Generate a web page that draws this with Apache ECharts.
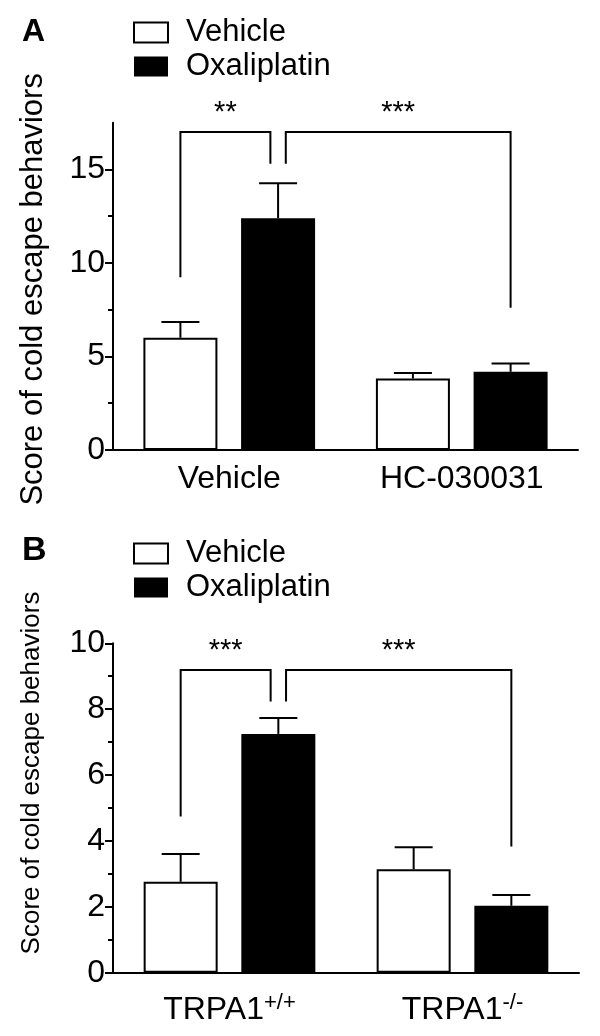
<!DOCTYPE html>
<html><head><meta charset="utf-8">
<script src="https://cdn.jsdelivr.net/npm/echarts@6/dist/echarts.min.js"></script>
<style>html,body{margin:0;padding:0;background:#fff}#c{width:600px;height:1036px}</style>
</head><body><div id="c"></div>
<script>
// ---------- data ----------
const seriesNames = ['Vehicle', 'Oxaliplatin'];

const catsA = ['Vehicle', 'HC-030031'];
const vehA = [6.0, 3.82];
const vehSemA = [0.84, 0.30];
const oxaA = [12.39, 4.18];
const oxaSemA = [1.87, 0.44];
const ticksA = [0, 5, 10, 15];
const minorTicksA = [2.5, 7.5, 12.5];
const maxA = 17.5;
// bracket: [cat1, bar1, cat2, bar2, top, legBottom1, legBottom2]
const bracketsA = [[0, 0, 0, 1, 17.0, 9.24, 15.3], [0, 1, 1, 1, 17.0, 15.3, 7.6]];
const starsA = ['**', '***'];

const catsB = ['TRPA1+/+', 'TRPA1-/-'];
const vehB = [2.76, 3.14];
const vehSemB = [0.84, 0.67];
const oxaB = [7.25, 2.03];
const oxaSemB = [0.48, 0.33];
const ticksB = [0, 2, 4, 6, 8, 10];
const minorTicksB = [1, 3, 5, 7, 9];
const maxB = 10;
const bracketsB = [[0, 0, 0, 1, 9.19, 4.74, 8.23], [0, 1, 1, 1, 9.19, 8.23, 3.83]];
const starsB = ['***', '***'];

// ---------- style ----------
const FONT = 'Liberation Sans, Arial, Helvetica, sans-serif';
const BW = 74, GAP = 0.32;
const OFF = (BW + BW * GAP) / 2;
const CAP = 19, LEG_INSET = 7.7;

const chart = echarts.init(document.getElementById('c'), null, {renderer: 'canvas'});

function errRender(barIdx) {
  return function (params, api) {
    const cat = api.value(0), v = api.value(1), s = api.value(2);
    const p0 = api.coord([cat, v]);
    const p1 = api.coord([cat, v + s]);
    const x = p0[0] + (barIdx === 0 ? -OFF : OFF);
    const st = {stroke: '#000', lineWidth: 2};
    return {type: 'group', children: [
      {type: 'line', shape: {x1: x, y1: p0[1], x2: x, y2: p1[1]}, style: st},
      {type: 'line', shape: {x1: x - CAP, y1: p1[1], x2: x + CAP, y2: p1[1]}, style: st}
    ]};
  };
}

function bracketRender(brackets, stars) {
  return function (params, api) {
    const i = params.dataIndex;
    const b = brackets[i];
    function legX(cat, bar, isRight) {
      const c = api.coord([cat, 0])[0] + (bar === 0 ? -OFF : OFF);
      const shared = brackets.some((o, j) => j !== i &&
        ((o[0] === cat && o[1] === bar) || (o[2] === cat && o[3] === bar)));
      return shared ? c + (isRight ? -LEG_INSET : LEG_INSET) : c;
    }
    const x1 = legX(b[0], b[1], false), x2 = legX(b[2], b[3], true);
    const yt = api.coord([0, b[4]])[1];
    const y1 = api.coord([0, b[5]])[1];
    const y2 = api.coord([0, b[6]])[1];
    return {type: 'group', children: [
      {type: 'polyline', shape: {points: [[x1, y1], [x1, yt], [x2, yt], [x2, y2]]},
       style: {stroke: '#000', lineWidth: 2, fill: null}},
      {type: 'text', x: (x1 + x2) / 2, y: yt - 19,
       style: {text: stars[i], fontSize: 29, fontFamily: FONT, fill: '#000', align: 'center', verticalAlign: 'middle'}}
    ]};
  };
}

function valueAxes(grid, max, major, minor, nameSize, nameGap, namePad) {
  return [
    {gridIndex: grid, type: 'value', min: 0, max: max, position: 'left',
     name: 'Score of cold escape behaviors', nameLocation: 'middle', nameRotate: 90, nameGap: nameGap,
     nameTextStyle: {fontSize: nameSize, color: '#000', fontFamily: FONT, padding: namePad},
     axisLine: {show: true, lineStyle: {color: '#000', width: 2}},
     axisTick: {show: true, length: 8, customValues: major, lineStyle: {color: '#000', width: 2}},
     axisLabel: {customValues: major, fontSize: 32, color: '#000', fontFamily: FONT, margin: 8},
     splitLine: {show: false}},
    {gridIndex: grid, type: 'value', min: 0, max: max, position: 'left', offset: 0,
     axisLine: {show: false},
     axisTick: {show: true, length: 5, customValues: minor, lineStyle: {color: '#000', width: 2}},
     axisLabel: {show: false}, splitLine: {show: false}}
  ];
}

const legendData = [
  {name: seriesNames[0], itemStyle: {color: '#fff', borderColor: '#000', borderWidth: 2}},
  {name: seriesNames[1], itemStyle: {color: '#000', borderColor: '#000', borderWidth: 0}}
];

function legend(top) {
  return {orient: 'vertical', left: 133, top: top, padding: 0, itemWidth: 34, itemHeight: 20, itemGap: 3,
    icon: 'rect', data: legendData, selectedMode: false,
    textStyle: {fontSize: 31, color: '#000', fontFamily: FONT, lineHeight: 30, padding: [0, 0, 0, 13]}};
}

const option = {
  backgroundColor: '#fff',
  animation: false,
  title: [
    {text: 'A', left: 22, top: 16, padding: 0, textStyle: {fontSize: 32, fontWeight: 'bold', color: '#000', fontFamily: FONT}},
    {text: 'B', left: 22, top: 534, padding: 0, textStyle: {fontSize: 34, fontWeight: 'bold', color: '#000', fontFamily: FONT}}
  ],
  legend: [legend(17), legend(538)],
  grid: [
    {left: 113, right: 22, top: 122.7, bottom: 586, containLabel: false},
    {left: 113, right: 21, top: 643.3, bottom: 63.3, containLabel: false}
  ],
  xAxis: [
    {gridIndex: 0, type: 'category', data: catsA,
     axisLine: {lineStyle: {color: '#000', width: 2}}, axisTick: {show: false},
     axisLabel: {fontSize: 32, color: '#000', fontFamily: FONT, margin: 13}},
    {gridIndex: 1, type: 'category', data: catsB,
     axisLine: {lineStyle: {color: '#000', width: 2}}, axisTick: {show: false},
     axisLabel: {margin: 19, color: '#000',
       formatter: function (v) { const m = v.match(/^(TRPA1)(.*)$/); return '{m|' + m[1] + '}{s|' + m[2] + '}'; },
       rich: {m: {fontSize: 32, lineHeight: 36, fontFamily: FONT, color: '#000'},
              s: {fontSize: 22, lineHeight: 22, verticalAlign: 'top', fontFamily: FONT, color: '#000'}}}}
  ],
  yAxis: [].concat(
    valueAxes(0, maxA, ticksA, minorTicksA, 31, 64, [0, 6, 0, 0]),
    valueAxes(1, maxB, ticksB, minorTicksB, 26, 68, [0, 0, 0, 70])
  ),
  series: [
    {type: 'bar', name: seriesNames[0], xAxisIndex: 0, yAxisIndex: 0, data: vehA, barWidth: BW, barGap: (GAP * 100) + '%',
     itemStyle: {color: '#fff', borderColor: '#000', borderWidth: 2}},
    {type: 'bar', name: seriesNames[1], xAxisIndex: 0, yAxisIndex: 0, data: oxaA, barWidth: BW, barGap: (GAP * 100) + '%',
     itemStyle: {color: '#000', borderColor: '#000', borderWidth: 2}},
    {type: 'bar', name: seriesNames[0], xAxisIndex: 1, yAxisIndex: 2, data: vehB, barWidth: BW, barGap: (GAP * 100) + '%',
     itemStyle: {color: '#fff', borderColor: '#000', borderWidth: 2}},
    {type: 'bar', name: seriesNames[1], xAxisIndex: 1, yAxisIndex: 2, data: oxaB, barWidth: BW, barGap: (GAP * 100) + '%',
     itemStyle: {color: '#000', borderColor: '#000', borderWidth: 2}},
    {type: 'custom', name: 'errVehA', xAxisIndex: 0, yAxisIndex: 0, renderItem: errRender(0),
     encode: {x: 0, y: 1}, data: catsA.map((c, i) => [i, vehA[i], vehSemA[i]]), z: 3},
    {type: 'custom', name: 'errOxaA', xAxisIndex: 0, yAxisIndex: 0, renderItem: errRender(1),
     encode: {x: 0, y: 1}, data: catsA.map((c, i) => [i, oxaA[i], oxaSemA[i]]), z: 3},
    {type: 'custom', name: 'errVehB', xAxisIndex: 1, yAxisIndex: 2, renderItem: errRender(0),
     encode: {x: 0, y: 1}, data: catsB.map((c, i) => [i, vehB[i], vehSemB[i]]), z: 3},
    {type: 'custom', name: 'errOxaB', xAxisIndex: 1, yAxisIndex: 2, renderItem: errRender(1),
     encode: {x: 0, y: 1}, data: catsB.map((c, i) => [i, oxaB[i], oxaSemB[i]]), z: 3},
    {type: 'custom', name: 'bracketA', xAxisIndex: 0, yAxisIndex: 0, renderItem: bracketRender(bracketsA, starsA),
     encode: {x: 0, y: 4}, data: bracketsA, z: 3},
    {type: 'custom', name: 'bracketB', xAxisIndex: 1, yAxisIndex: 2, renderItem: bracketRender(bracketsB, starsB),
     encode: {x: 0, y: 4}, data: bracketsB, z: 3}
  ]
};
chart.setOption(option);
</script>
</body></html>
